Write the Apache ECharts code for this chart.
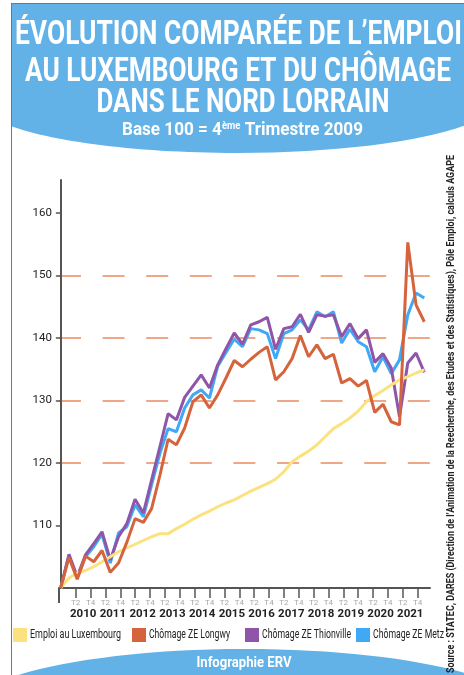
<!DOCTYPE html>
<html><head><meta charset="utf-8">
<script src="https://cdn.jsdelivr.net/npm/echarts@6/dist/echarts.min.js"></script>
<style>html,body{margin:0;padding:0;background:#fff}#c{width:464px;height:675px}</style>
</head><body><div id="c"></div>
<script>
// ---- data (index 0 = base 100) ----
const periods = ['P0','P1','P2','P3','P4','P5','P6','P7','P8','P9','P10','P11','P12','P13','P14','P15','P16','P17','P18','P19','P20','P21','P22','P23','P24','P25','P26','P27','P28','P29','P30','P31','P32','P33','P34','P35','P36','P37','P38','P39','P40','P41','P42','P43','P44'];
const emploiLux = [100,101.6,102.4,102.8,103.4,104.2,105.0,105.8,106.4,107.0,107.6,108.2,108.7,108.7,109.5,110.2,111.0,111.7,112.3,113.0,113.6,114.1,114.8,115.5,116.1,116.7,117.4,118.6,120.2,121.1,121.9,122.9,124.2,125.5,126.3,127.2,128.3,129.8,130.8,131.6,132.5,133.3,133.8,134.4,134.9];
const chomageLongwy = [100,104.9,101.4,105.1,104.2,106.0,102.5,104.0,107.3,111.1,110.5,112.7,118.0,123.8,122.9,125.6,129.8,130.9,128.8,130.9,133.6,136.4,135.4,136.6,137.7,138.6,133.3,134.6,136.7,140.4,137.0,138.9,136.7,137.4,132.8,133.5,132.3,133.2,128.1,129.4,126.6,126.1,155.3,145.3,142.6];
const chomageThionville = [100,105.4,101.8,105.3,107.1,109.0,104.5,108.2,110.3,114.2,112.0,117.3,122.6,127.9,126.9,130.5,132.3,134.1,132.0,135.7,138.3,140.8,139.0,142.1,142.6,143.3,138.2,141.5,141.8,143.8,140.9,143.7,143.5,143.7,140.2,142.3,139.9,141.3,136.1,137.5,135.2,127.4,136.0,137.6,134.5];
const chomageMetz = [100,105.2,101.6,105.0,106.6,108.6,104.0,108.8,109.8,113.3,111.4,116.5,121.5,125.5,125.0,128.8,130.9,131.7,130.4,135.5,137.7,139.8,138.6,141.5,141.3,140.7,136.7,140.7,141.3,142.9,141.3,144.2,143.4,144.2,139.2,141.4,139.4,138.6,134.6,137.0,134.3,136.5,143.7,147.2,146.4];
const seriesNames = ['Emploi au Luxembourg','Chômage ZE Longwy','Chômage ZE Thionville','Chômage ZE Metz'];
const yearLabels = ['2010','2011','2012','2013','2014','2015','2016','2017','2018','2019','2020','2021'];
const quarterTickLabels = ['T2','T4'];
const yTickValues = [110,120,130,140,150,160];
const titleLines = ['ÉVOLUTION COMPARÉE DE L’EMPLOI','AU LUXEMBOURG ET DU CHÔMAGE','DANS LE NORD LORRAIN'];
const subtitleParts = ['Base 100 = 4','ème',' Trimestre 2009'];
const sourceText = 'Source : STATEC, DARES (Direction de l’Animation de la Reecherche, des Etudes et des Statistiques), Pôle Emploi, calculs AGAPE';
const footerText = 'Infographie ERV';

const colors = ['#fbe27e','#d5633b','#8f55a9','#3fa9f5'];
const FONT = 'Roboto, sans-serif';

// text condensing helper (the original uses a condensed face)
const mctx = document.createElement('canvas').getContext('2d');
function tw(text, font) { mctx.font = font; return mctx.measureText(text).width; }
function fit(text, font, w) { return w / tw(text, font); }

// quarter slots: 0 = T4 2009
const tickSlots = [], tickText = {}, yearSlots = [], yearText = {};
yearLabels.forEach((y, i) => {
  tickSlots.push(i*4+2); tickText[i*4+2] = quarterTickLabels[0];
  tickSlots.push(i*4+4); tickText[i*4+4] = quarterTickLabels[1];
  yearSlots.push(i*4+3); yearText[i*4+3] = y;
});

const Y_MIN = 100, Y_MAX = 165.28;
const chart = echarts.init(document.getElementById('c'), null, {renderer:'canvas'});
const BLUE = '#62b1e7';

const tFont = 'bold 33px ' + FONT;
const subA = 'bold 18px ' + FONT, subS = 'bold 10px ' + FONT;
const subW = tw(subtitleParts[0], subA) + tw(subtitleParts[1], subS) + tw(subtitleParts[2], subA);
const legFont = '13px ' + FONT;
const srcFont = 'bold 10px ' + FONT;

// legend built from series names / colours
const legendBoxes = [13, 132, 245, 356];
const legendTextW = [91, 81, 89, 71];
const legendEls = [];
seriesNames.forEach((n, i) => {
  legendEls.push({type: 'rect', shape: {x: legendBoxes[i], y: 628, width: 14, height: 14}, style: {fill: colors[i]}, z: 20, silent: true});
  legendEls.push({type: 'text', x: legendBoxes[i] + 17, y: 635, scaleX: fit(n, legFont, legendTextW[i]),
    style: {text: n, fill: '#222', font: legFont, textAlign: 'left', textVerticalAlign: 'middle'}, z: 20, silent: true});
});

chart.setOption({
  animation: false,
  backgroundColor: '#fff',
  grid: [
    {left: 60.7, right: 39.7, top: 180, bottom: 87},
    {left: 59, right: 34, top: 180, bottom: 87}
  ],
  xAxis: [
    {gridIndex: 0, type: 'category', data: periods, boundaryGap: false, show: false},
    {gridIndex: 1, type: 'value', position: 'bottom', min: -0.246, max: 49.654,
      axisLine: {show: true, lineStyle: {color: '#555', width: 2}},
      axisTick: {show: true, customValues: tickSlots, length: 10, lineStyle: {color: '#555', width: 1.5}},
      axisLabel: {customValues: tickSlots, hideOverlap: false, formatter: v => tickText[v] || '', color: '#a8a8a8', fontSize: 8, margin: 11, fontFamily: FONT},
      splitLine: {show: false}},
    {gridIndex: 1, type: 'value', position: 'bottom', min: -0.246, max: 49.654,
      axisLine: {show: false}, axisTick: {show: false},
      axisLabel: {customValues: yearSlots, hideOverlap: false, formatter: v => yearText[v] || '', color: '#222', fontSize: 11.5, fontWeight: 'bold', margin: 20, fontFamily: FONT},
      splitLine: {show: false}}
  ],
  yAxis: [
    {gridIndex: 0, type: 'value', min: Y_MIN, max: Y_MAX, show: false, splitLine: {show: false}},
    {gridIndex: 1, type: 'value', min: Y_MIN, max: Y_MAX,
      axisLine: {show: true, lineStyle: {color: '#555', width: 2}},
      axisTick: {show: true, customValues: yTickValues, length: 5, lineStyle: {color: '#555', width: 1.5}},
      axisLabel: {customValues: yTickValues, color: '#222', fontSize: 11.5, margin: 7, fontFamily: FONT},
      splitLine: {show: true, showMinLine: false, showMaxLine: false, lineStyle: {color: '#ec8b62', width: 1.6, type: [22, 21.6]}}}
  ],
  series: [
    {name: seriesNames[0], type: 'line', data: emploiLux, xAxisIndex: 0, yAxisIndex: 0, symbol: 'none', z: 4, lineStyle: {width: 3, color: colors[0]}, itemStyle: {color: colors[0]}},
    {name: seriesNames[1], type: 'line', data: chomageLongwy, xAxisIndex: 0, yAxisIndex: 0, symbol: 'none', z: 5, lineStyle: {width: 3, color: colors[1]}, itemStyle: {color: colors[1]}},
    {name: seriesNames[2], type: 'line', data: chomageThionville, xAxisIndex: 0, yAxisIndex: 0, symbol: 'none', z: 3, lineStyle: {width: 3, color: colors[2]}, itemStyle: {color: colors[2]}},
    {name: seriesNames[3], type: 'line', data: chomageMetz, xAxisIndex: 0, yAxisIndex: 0, symbol: 'none', z: 2, lineStyle: {width: 3, color: colors[3]}, itemStyle: {color: colors[3]}}
  ],
  graphic: [
    {type: 'rect', shape: {x: 12, y: 4, width: 452, height: 100}, style: {fill: BLUE}, z: -10, silent: true},
    {type: 'ellipse', shape: {cx: 237, cy: 100, rx: 260, ry: 53}, style: {fill: BLUE}, z: -10, silent: true},
    {type: 'ellipse', shape: {cx: 245, cy: 712, rx: 280, ry: 63}, style: {fill: BLUE}, z: -10, silent: true},
    {type: 'rect', shape: {x: 0, y: 0, width: 11, height: 675}, style: {fill: '#fff'}, z: -5, silent: true},
    {type: 'rect', shape: {x: 0, y: 0, width: 464, height: 3}, style: {fill: '#fff'}, z: -5, silent: true},
    {type: 'line', shape: {x1: 11.5, y1: 3, x2: 11.5, y2: 675}, style: {stroke: '#777', lineWidth: 1}, z: 10, silent: true},
    {type: 'line', shape: {x1: 11, y1: 3.5, x2: 464, y2: 3.5}, style: {stroke: '#777', lineWidth: 1}, z: 10, silent: true},
    {type: 'line', shape: {x1: 59, y1: 588, x2: 59, y2: 603}, style: {stroke: '#555', lineWidth: 2}, z: 10, silent: true},
    {type: 'text', x: 238.5, y: 36, scaleX: fit(titleLines[0], tFont, 447), style: {text: titleLines[0], fill: '#fff', font: tFont, textAlign: 'center', textVerticalAlign: 'middle'}, z: 20},
    {type: 'text', x: 238, y: 73, scaleX: fit(titleLines[1], tFont, 426), style: {text: titleLines[1], fill: '#fff', font: tFont, textAlign: 'center', textVerticalAlign: 'middle'}, z: 20},
    {type: 'text', x: 243, y: 104, scaleX: fit(titleLines[2], tFont, 293), style: {text: titleLines[2], fill: '#fff', font: tFont, textAlign: 'center', textVerticalAlign: 'middle'}, z: 20},
    {type: 'text', x: 242.5, y: 130, scaleX: 241 / subW, style: {text: '{a|' + subtitleParts[0] + '}{s|' + subtitleParts[1] + '}{a|' + subtitleParts[2] + '}', rich: {a: {fontSize: 18, fontWeight: 'bold', fontFamily: FONT, fill: '#fff', color: '#fff'}, s: {fontSize: 10, fontWeight: 'bold', fontFamily: FONT, fill: '#fff', color: '#fff', verticalAlign: 'top', padding: [0,0,8,0]}}, textAlign: 'center', textVerticalAlign: 'middle'}, z: 20},
    {type: 'text', x: 244, y: 663, scaleX: fit(footerText, 'bold 14px ' + FONT, 95), style: {text: footerText, fill: '#fff', font: 'bold 14px ' + FONT, textAlign: 'center', textVerticalAlign: 'middle'}, z: 20},
    {type: 'text', x: 451, y: 414, rotation: Math.PI/2, scaleX: fit(sourceText, srcFont, 518), style: {text: sourceText, fill: '#222', font: srcFont, textAlign: 'center', textVerticalAlign: 'middle'}, z: 20}
  ].concat(legendEls)
});
</script></body></html>
